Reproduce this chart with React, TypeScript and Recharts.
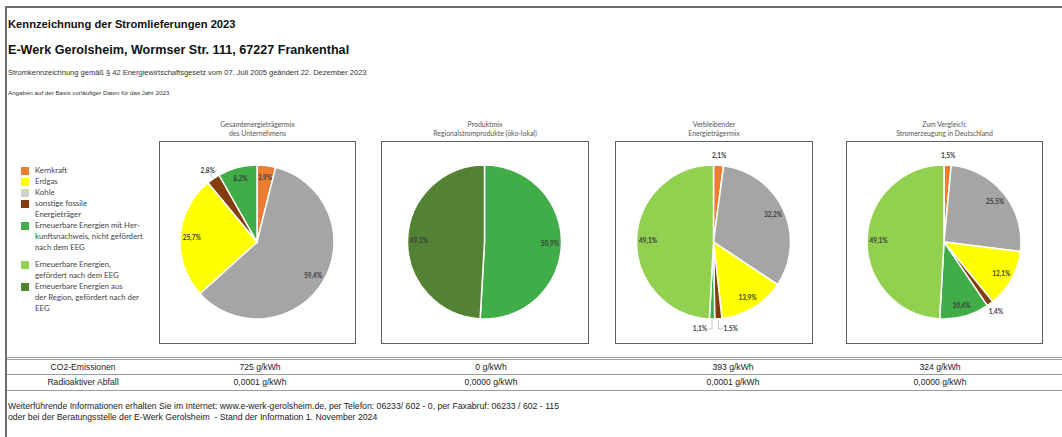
import { Cell, Pie, PieChart } from "recharts";

// energy carriers, in the order the pies are drawn (clockwise from 12 o'clock)
const carriers = [
  "Kernkraft",
  "Kohle",
  "Erdgas",
  "sonstige fossile Energieträger",
  "Erneuerbare Energien mit Herkunftsnachweis, nicht gefördert nach dem EEG",
  "Erneuerbare Energien, gefördert nach dem EEG",
  "Erneuerbare Energien aus der Region, gefördert nach der EEG",
];
const pieColors = ["#ED7D31", "#A5A5A5", "#FFFF00", "#843C0C", "#40AD48", "#92D050", "#548235"];

const unternehmen = [3.9, 59.4, 25.7, 2.8, 8.2, 0, 0];
const produktmix = [0, 0, 0, 0, 50.9, 0, 49.1];
const verbleibend = [2.1, 32.2, 13.9, 1.5, 1.1, 49.1, 0];
const deutschland = [1.5, 25.5, 12.1, 1.4, 10.4, 49.1, 0];

const chartTitles = [
  ["Gesamtenergieträgermix", "des Unternehmens"],
  ["Produktmix", "Regionalstromprodukte (öko-lokal)"],
  ["Verbleibender", "Energieträgermix"],
  ["Zum Vergleich:", "Stromerzeugung in Deutschland"],
];

// legend (own order and line breaks, as in the sheet)
const legendLabels = [
  ["Kernkraft"],
  ["Erdgas"],
  ["Kohle"],
  ["sonstige fossile", "Energieträger"],
  ["Erneuerbare Energien mit Her-", "kunftsnachweis, nicht gefördert", "nach dem EEG"],
  ["Erneuerbare Energien,", "gefördert nach dem EEG"],
  ["Erneuerbare Energien aus", "der Region, gefördert nach der", "EEG"],
];
const legendColors = ["#ED7D31", "#FFFF00", "#D0D0D0", "#843C0C", "#40AD48", "#92D050", "#548235"];

const co2Values = [725, 0, 393, 324];
const wasteValues = [0.0001, 0.0, 0.0001, 0.0];

const series = [unternehmen, produktmix, verbleibend, deutschland];

// layout
const boxes = [
  { left: 159, width: 197 },
  { left: 381, width: 208 },
  { left: 615, width: 198 },
  { left: 846, width: 197 },
];
const tableCols = [260, 491, 733, 940];

const RAD = Math.PI / 180;
const calibri = "Lato, 'Open Sans', sans-serif";
const arial = "'Liberation Sans', Arial, sans-serif";

const pct = (v: number) => v.toFixed(1).replace(".", ",") + "%";

function SliceLabel(props: any) {
  const { cx, cy, midAngle, outerRadius, value } = props;
  const dx = Math.cos(-midAngle * RAD);
  const dy = Math.sin(-midAngle * RAD);
  const textProps = {
    fontSize: 6.5,
    fontWeight: 700,
    fontFamily: calibri,
    fill: "#3A3A3A",
    dominantBaseline: "central" as const,
  };
  if (value >= 3) {
    const r = outerRadius * 0.85;
    return (
      <text x={cx + r * dx} y={cy + r * dy} textAnchor="middle" {...textProps}>
        {pct(value)}
      </text>
    );
  }
  const r = outerRadius + 10;
  let x = cx + r * dx;
  const y = cy + r * dy;
  const ex = cx + (outerRadius + 1) * dx;
  const ey = cy + (outerRadius + 1) * dy;
  if (dy > 0.9) {
    // bottom labels are pushed sideways with an L-shaped leader
    const side = dx >= 0 ? 1 : -1;
    x = ex + side * 4;
    return (
      <g>
        <polyline
          points={`${ex},${ey} ${ex},${y} ${x},${y}`}
          fill="none"
          stroke="#A6A6A6"
          strokeWidth={0.7}
        />
        <text x={x + side * 1} y={y} textAnchor={side > 0 ? "start" : "end"} {...textProps}>
          {pct(value)}
        </text>
      </g>
    );
  }
  const showLine = dy > -0.95 && dx < 0;
  return (
    <g>
      {showLine ? (
        <polyline
          points={`${ex},${ey} ${cx + (outerRadius + 5) * dx},${cy + (outerRadius + 5) * dy} ${x + 9},${y}`}
          fill="none"
          stroke="#A6A6A6"
          strokeWidth={0.7}
        />
      ) : null}
      <text x={x} y={y} textAnchor="middle" {...textProps}>
        {pct(value)}
      </text>
    </g>
  );
}

function MixPie({ values, width, height }: { values: number[]; width: number; height: number }) {
  const data = carriers
    .map((name, i) => ({ name, value: values[i], fill: pieColors[i] }))
    .filter((d) => d.value > 0);
  return (
    <PieChart width={width} height={height}>
      <Pie
        data={data}
        dataKey="value"
        nameKey="name"
        cx="50%"
        cy="50%"
        outerRadius={77}
        startAngle={90}
        endAngle={-270}
        stroke="#FFFFFF"
        strokeWidth={1.5}
        label={SliceLabel}
        labelLine={false}
        isAnimationActive={false}
      >
        {data.map((entry) => (
          <Cell key={entry.name} fill={entry.fill} />
        ))}
      </Pie>
    </PieChart>
  );
}

export default function App() {
  const boxTop = 141;
  const boxHeight = 203;
  return (
    <div
      style={{
        position: "absolute",
        left: 0,
        top: 0,
        width: 1062,
        height: 437,
        background: "#fff",
        overflow: "hidden",
        fontFamily: arial,
        color: "#111",
      }}
    >
      {/* sheet frame */}
      <div style={{ position: "absolute", left: 5, top: 6, right: 0, height: 2, background: "#6E6E6E" }} />
      <div style={{ position: "absolute", left: 5, top: 6, width: 2, bottom: 0, background: "#6E6E6E" }} />

      {/* header */}
      <div style={{ position: "absolute", left: 8, top: 17, fontSize: 11.2, fontWeight: 700, lineHeight: "15px" }}>
        Kennzeichnung der Stromlieferungen 2023
      </div>
      <div style={{ position: "absolute", left: 8, top: 42, fontSize: 12.6, fontWeight: 700, lineHeight: "16px" }}>
        E-Werk Gerolsheim, Wormser Str. 111, 67227 Frankenthal
      </div>
      <div style={{ position: "absolute", left: 8, top: 68, fontSize: 7.5, lineHeight: "10px", color: "#333" }}>
        Stromkennzeichnung gemäß § 42 Energiewirtschaftsgesetz vom 07. Juli 2005 geändert 22. Dezember 2023
      </div>
      <div style={{ position: "absolute", left: 8, top: 89, fontSize: 6.2, lineHeight: "8px", color: "#333" }}>
        Angaben auf der Basis vorläufiger Daten für das Jahr 2023
      </div>

      {/* legend */}
      <div style={{ position: "absolute", left: 21, top: 165, fontFamily: calibri, fontSize: 7.8, color: "#444" }}>
        {legendLabels.map((lines, i) => (
          <div
            key={i}
            style={{ position: "relative", paddingLeft: 14, lineHeight: "11px", marginBottom: i === 4 ? 6 : 0 }}
          >
            <span
              style={{
                position: "absolute",
                left: 0,
                top: 1.5,
                width: 8,
                height: 8,
                background: legendColors[i],
              }}
            />
            {lines.map((l) => (
              <div key={l}>{l}</div>
            ))}
          </div>
        ))}
      </div>

      {/* pies */}
      {boxes.map((b, i) => (
        <div key={i}>
          <div
            style={{
              position: "absolute",
              left: b.left - 40,
              width: b.width + 80,
              top: 120,
              textAlign: "center",
              fontFamily: calibri,
              fontSize: 6.9,
              lineHeight: "9px",
              color: "#555",
            }}
          >
            <div>{chartTitles[i][0]}</div>
            <div>{chartTitles[i][1]}</div>
          </div>
          <div
            style={{
              position: "absolute",
              left: b.left,
              top: boxTop,
              width: b.width,
              height: boxHeight,
              boxSizing: "border-box",
              border: "1.5px solid #5F5F5F",
            }}
          >
            <MixPie values={series[i]} width={b.width - 3} height={boxHeight - 3} />
          </div>
        </div>
      ))}

      {/* table */}
      <div style={{ position: "absolute", left: 7, right: 0, top: 357, height: 0, borderTop: "3px double #A0A0A0" }} />
      <div style={{ position: "absolute", left: 7, right: 0, top: 374, height: 1, background: "#9A9A9A" }} />
      <div style={{ position: "absolute", left: 7, right: 0, top: 390, height: 1, background: "#9A9A9A" }} />
      {[
        { label: "CO2-Emissionen", y: 361.5, vals: co2Values.map((v) => `${v} g/kWh`) },
        {
          label: "Radioaktiver Abfall",
          y: 376.5,
          vals: wasteValues.map((v) => `${v.toFixed(4).replace(".", ",")} g/kWh`),
        },
      ].map((row) => (
        <div key={row.label}>
          <div
            style={{
              position: "absolute",
              left: 0,
              width: 166,
              top: row.y,
              textAlign: "center",
              fontSize: 8.6,
              lineHeight: "10px",
              color: "#222",
            }}
          >
            {row.label}
          </div>
          {row.vals.map((v, j) => (
            <div
              key={j}
              style={{
                position: "absolute",
                left: tableCols[j] - 60,
                width: 120,
                top: row.y,
                textAlign: "center",
                fontSize: 8.6,
                lineHeight: "10px",
                color: "#222",
              }}
            >
              {v}
            </div>
          ))}
        </div>
      ))}

      {/* footer */}
      <div style={{ position: "absolute", left: 8, top: 400.5, fontSize: 8.7, lineHeight: "11px", color: "#222" }}>
        <div>
          Weiterführende Informationen erhalten Sie im Internet: www.e-werk-gerolsheim.de, per Telefon: 06233/ 602 - 0,
          per Faxabruf: 06233 / 602 - 115
        </div>
        <div>oder bei der Beratungsstelle der E-Werk Gerolsheim&nbsp; - Stand der Information 1. November 2024</div>
      </div>
    </div>
  );
}
